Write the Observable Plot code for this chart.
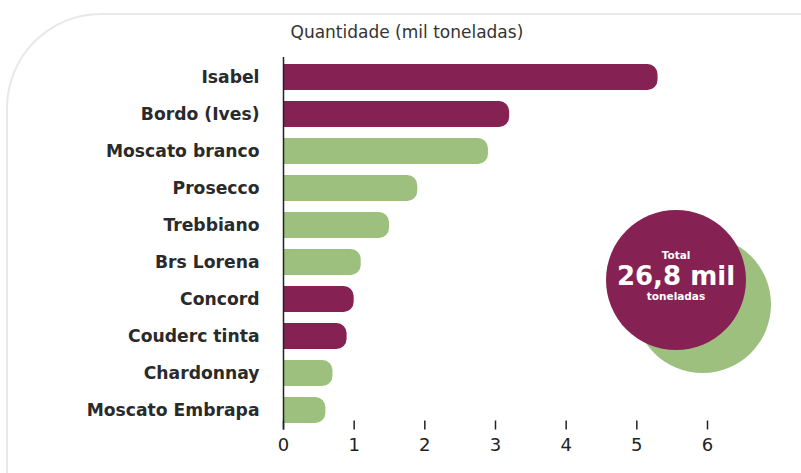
<!DOCTYPE html>
<html><head><meta charset="utf-8">
<script src="https://cdn.jsdelivr.net/npm/d3@7"></script>
<script src="https://cdn.jsdelivr.net/npm/@observablehq/plot@0.6"></script>
<style>
body{margin:0;background:#fff;}
#wrap{position:relative;width:801px;height:473px;overflow:hidden;font-family:"DejaVu Sans",sans-serif;}
#panel{position:absolute;left:6px;top:13px;width:900px;height:600px;border-top:2px solid #e8e8e8;border-left:2px solid #e8e8e8;border-top-left-radius:95px;}
#chart{position:absolute;left:0;top:0;}
.circ{position:absolute;border-radius:50%;}
#total{position:absolute;left:606px;top:210px;width:140px;height:140px;color:#fff;text-align:center;}
#total div{white-space:nowrap;}
</style></head>
<body><div id="wrap"><div id="panel"></div><div id="chart"></div>
<div class="circ" style="left:634px;top:236px;width:137px;height:137px;background:#9dc07f"></div>
<div class="circ" style="left:606px;top:210px;width:140px;height:140px;background:#862253"></div>
<div id="total"><div style="margin-top:39px;font-size:10.5px;line-height:13px;font-weight:bold">Total</div><div style="font-size:26px;font-weight:bold;line-height:28px">26,8 mil</div><div style="font-size:10.5px;line-height:13px;font-weight:bold">toneladas</div></div>
</div>
<script>
const varieties = ["Isabel","Bordo (Ives)","Moscato branco","Prosecco","Trebbiano","Brs Lorena","Concord","Couderc tinta","Chardonnay","Moscato Embrapa"];
const quantities = [5.3,3.2,2.9,1.9,1.5,1.1,1.0,0.9,0.7,0.6];
const grapeType = ["tinta","tinta","branca","branca","branca","branca","tinta","tinta","branca","branca"];
const xTicks = [0,1,2,3,4,5,6];
const axisTitle = "Quantidade (mil toneladas)";
const data = varieties.map((v,i)=>({variety:v, value:quantities[i], type:grapeType[i]}));
const W = 801, H = 473, mT = 57, mB = 43.5;
const chart = Plot.plot({
  width:W, height:H,
  marginLeft:283, marginRight:94, marginTop:mT, marginBottom:mB,
  style:{fontFamily:"DejaVu Sans, sans-serif", color:"#222", background:"transparent"},
  x:{domain:[0,6], ticks:xTicks, label:null},
  y:{domain:varieties, paddingInner:0.3, paddingOuter:0.15, label:null},
  color:{domain:["tinta","branca"], range:["#862253","#9dc07f"]},
  marks:[
    Plot.barX(data,{x1:-0.2, x2:"value", y:"variety", fill:"type", rx:10, clip:true}),
    Plot.axisY({tickSize:0, tickPadding:24, fontSize:17.2, fontWeight:"bold", fill:"#2a2a2a", label:null}),
    Plot.ruleX([0],{stroke:"#222", strokeWidth:1.5}),
    Plot.tickX(xTicks,{x:d=>d, stroke:"#222", strokeWidth:1.5, insetTop:(H-mT-mB)-9}),
    Plot.axisX({ticks:xTicks, tickFormat:d=>String(d), tickSize:0, tickPadding:8, line:true, fontSize:18, fill:"#222", stroke:"#222", strokeWidth:1.5, label:null}),
    Plot.text([axisTitle],{frameAnchor:"top-left", dx:7, dy:-25, lineAnchor:"middle", textAnchor:"start", fontSize:17, fill:"#333"})
  ]
});
document.getElementById("chart").appendChild(chart);
</script></body></html>
